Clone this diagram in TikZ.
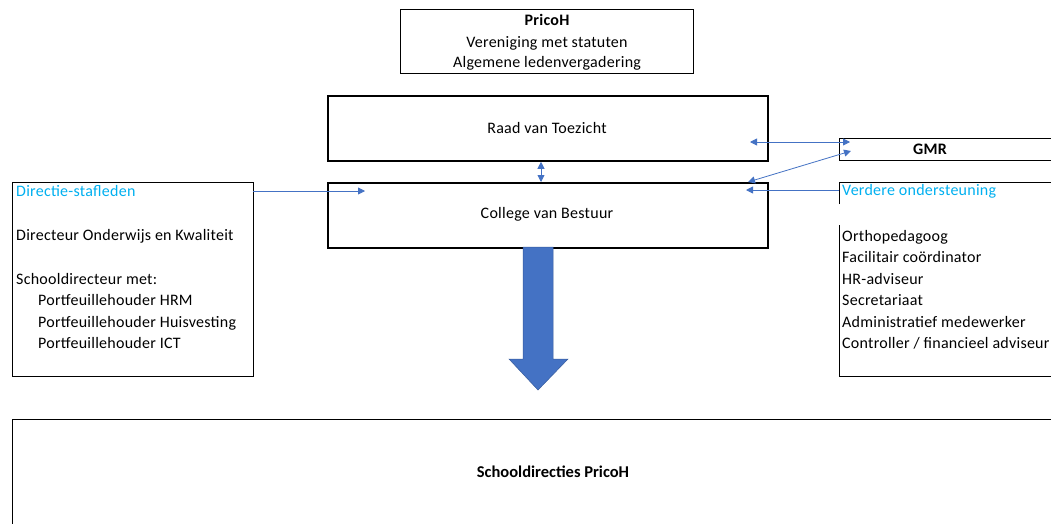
\documentclass[tikz,border=0pt]{standalone}
\usepackage{fontspec}
\setmainfont[LetterSpace=1.6]{Carlito}
\newfontfamily\plainfont{Carlito}
\usetikzlibrary{arrows.meta}
\definecolor{arrowblue}{HTML}{4472C4}
\definecolor{cyantext}{HTML}{00B0F0}
\tikzset{
  box/.style={draw=black, line width=1pt, inner sep=0pt, anchor=north west},
  thickbox/.style={box, line width=1.8pt},
  txt/.style={font=\fontsize{16}{19}\selectfont, inner sep=0pt},
  ltxt/.style={txt, anchor=base west},
  ctxt/.style={txt, anchor=base},
  conn/.style={draw=arrowblue, line width=0.8pt, -{Triangle[length=7pt,width=7pt]}},
  dconn/.style={draw=arrowblue, line width=0.8pt, {Triangle[length=7pt,width=7pt]}-{Triangle[length=7pt,width=7pt]}},
  bigarrow/.style={fill=arrowblue, draw=arrowblue!80!black, line width=0.5pt}
}
\begin{document}
\begin{tikzpicture}[x=1pt,y=-1pt]
\useasboundingbox (0,0) rectangle (1051,523);
\fill[white] (0,0) rectangle (1051,523);
\clip (0,0) rectangle (1051,523);

% boxes
\node[box, minimum width=293pt, minimum height=64pt] (pricoh) at (400,9) {};
\node[thickbox, minimum width=440pt, minimum height=65pt] (raad) at (327,95) {};
\node[thickbox, minimum width=440pt, minimum height=65pt] (cvb) at (327,182) {};
\node[box, minimum width=241pt, minimum height=194pt] (dir) at (12,182) {};
\node[box, line width=1.4pt, minimum width=240pt, minimum height=22pt] (gmr) at (839,138) {};
\node[box, minimum width=1060pt, minimum height=130pt] (school) at (12,419) {};

% Verdere ondersteuning frames
\coordinate (vo) at (839,182);
\coordinate (vl) at (839,225);
\draw[line width=1pt] (vo |- 0,204) -- (vo) -- (1060,182);
\draw[line width=1pt] (vl) -- (839,376) -- (1060,376);

% texts
\node[ctxt] (t1) at (547,25) {\bfseries PricoH};
\node[ctxt] (t2) at (547,47) {Vereniging met statuten};
\node[ctxt] (t3) at (547,67) {Algemene ledenvergadering};
\node[ctxt] (traad) at (547,133) {Raad van Toezicht};
\node[ctxt] (tcvb) at (547,218) {College van Bestuur};
\node[ctxt] (tgmr) at (930,154) {\bfseries GMR};
\node[ctxt, font=\plainfont\fontsize{16.5}{19}\selectfont\bfseries] (tschool) at (553,477) {Schooldirecties PricoH};

\node[ltxt, text=cyantext] (d0) at (16,196) {Directie-stafleden};
\node[ltxt] (d1) at (16,240) {Directeur Onderwijs en Kwaliteit};
\node[ltxt] (d2) at (16,284) {Schooldirecteur met:};
\node[ltxt] (d3) at (38,305) {Portfeuillehouder HRM};
\node[ltxt] (d4) at (38,327) {Portfeuillehouder Huisvesting};
\node[ltxt] (d5) at (38,348) {Portfeuillehouder ICT};

\node[ltxt, text=cyantext] (v0) at (842,195) {Verdere ondersteuning};
\node[ltxt] (v1) at (842,241) {Orthopedagoog};
\node[ltxt] (v2) at (842,262) {Facilitair coördinator};
\node[ltxt] (v3) at (842,284) {HR-adviseur};
\node[ltxt] (v4) at (842,305) {Secretariaat};
\node[ltxt] (v5) at (842,327) {Administratief medewerker};
\node[ltxt] (v6) at (842,348) {Controller / financieel adviseur};

% connector end points
\coordinate (dirout) at (253,191);
\coordinate (cvbin) at (365,191);
\coordinate (rcx) at (541,170);
\coordinate (raadin) at (750,142);
\coordinate (gmrin) at (850,142);
\coordinate (cvbin2) at (748,182);
\coordinate (gmrin2) at (851,151);
\coordinate (voout) at (839,190);
\coordinate (cvbin3) at (746,190);

% connectors
\draw[conn] (dirout) -- (cvbin);
\draw[dconn] (rcx |- raad.south) -- (rcx |- cvb.north);
\draw[dconn] (raadin) -- (gmrin);
\draw[dconn] (cvbin2) -- (gmrin2);
\draw[conn] (voout) -- (cvbin3);

% big arrow
\draw[bigarrow] (523,247) -- (553,247) -- (553,359) -- (568,359) -- (538,390) -- (509,359) -- (523,359) -- cycle;
\end{tikzpicture}
\end{document}
